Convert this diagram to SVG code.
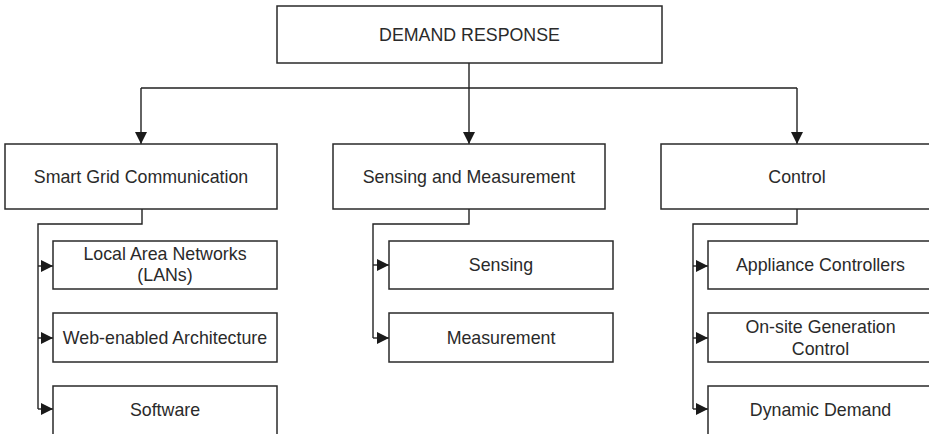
<svg xmlns="http://www.w3.org/2000/svg" width="929" height="434" viewBox="0 0 929 434">
<defs>
<style>
.box{fill:#fff;stroke:#2a2a2a;stroke-width:1.5}
.t{font-family:"Liberation Sans",Arial,sans-serif;font-size:17.8px;fill:#2a2a2a;text-anchor:middle}
.c{fill:none;stroke:#222;stroke-width:1.4}
</style>
<marker id="ah" markerUnits="userSpaceOnUse" markerWidth="14" markerHeight="14" viewBox="0 0 14 14" refX="13" refY="7" orient="auto">
<path d="M1,1 L13,7 L1,13 Z" fill="#1a1a1a"/>
</marker>
</defs>
<rect width="929" height="434" fill="#fff"/>
<g id="connectors">
<path class="c" d="M469,63 V88 M141,88 H797"/>
<path class="c" d="M141,88 V144" marker-end="url(#ah)"/>
<path class="c" d="M469,88 V144" marker-end="url(#ah)"/>
<path class="c" d="M797,88 V144" marker-end="url(#ah)"/>
<path class="c" d="M142,209 V224 H38 V409"/>
<path class="c" d="M38,266 H53" marker-end="url(#ah)"/>
<path class="c" d="M38,338 H53" marker-end="url(#ah)"/>
<path class="c" d="M38,409 H53" marker-end="url(#ah)"/>
<path class="c" d="M469,209 V224 H373 V338"/>
<path class="c" d="M373,265 H389" marker-end="url(#ah)"/>
<path class="c" d="M373,338 H389" marker-end="url(#ah)"/>
<path class="c" d="M797,209 V224 H693 V409"/>
<path class="c" d="M693,266 H708" marker-end="url(#ah)"/>
<path class="c" d="M693,338 H708" marker-end="url(#ah)"/>
<path class="c" d="M693,409 H708" marker-end="url(#ah)"/>
</g>
<g id="demand-response"><rect class="box" x="277" y="6" width="385" height="57"/><text class="t" x="469.5" y="41">DEMAND RESPONSE</text></g>
<g id="smart-grid"><rect class="box" x="5" y="144" width="272" height="65"/><text class="t" x="141" y="182.5">Smart Grid Communication</text></g>
<g id="sensing-measurement"><rect class="box" x="333" y="144" width="272" height="65"/><text class="t" x="469" y="182.5">Sensing and Measurement</text></g>
<g id="control"><rect class="box" x="661" y="144" width="272" height="65"/><text class="t" x="797" y="182.5">Control</text></g>
<g id="lans"><rect class="box" x="53" y="241" width="224" height="48"/><text class="t" x="165" y="260">Local Area Networks</text><text class="t" x="165" y="281">(LANs)</text></g>
<g id="web"><rect class="box" x="53" y="313" width="224" height="49"/><text class="t" x="165" y="343.5">Web-enabled Architecture</text></g>
<g id="software"><rect class="box" x="53" y="386" width="224" height="60"/><text class="t" x="165" y="416">Software</text></g>
<g id="sensing"><rect class="box" x="389" y="241" width="224" height="48"/><text class="t" x="501" y="271">Sensing</text></g>
<g id="measurement"><rect class="box" x="389" y="313" width="224" height="49"/><text class="t" x="501" y="343.5">Measurement</text></g>
<g id="appliance"><rect class="box" x="708" y="241" width="225" height="48"/><text class="t" x="820.5" y="271">Appliance Controllers</text></g>
<g id="onsite"><rect class="box" x="708" y="313" width="225" height="49"/><text class="t" x="820.5" y="333">On-site Generation</text><text class="t" x="820.5" y="354.5">Control</text></g>
<g id="dynamic"><rect class="box" x="708" y="386" width="225" height="60"/><text class="t" x="820.5" y="416">Dynamic Demand</text></g>
</svg>
